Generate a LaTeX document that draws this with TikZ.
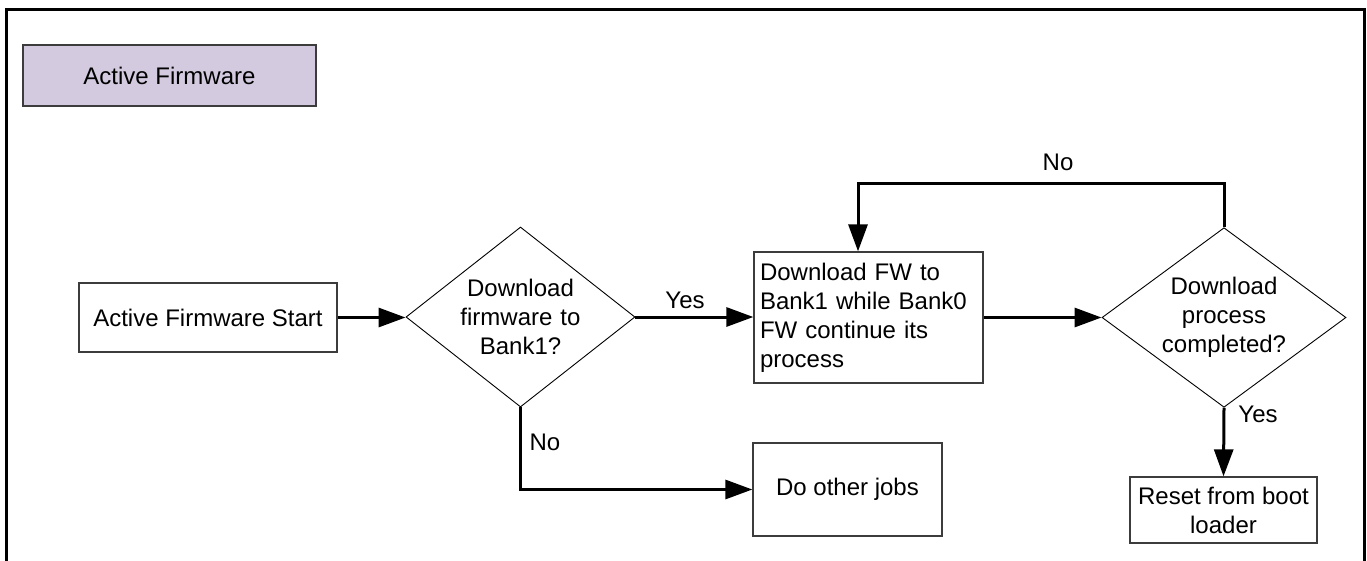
\documentclass[tikz,border=0pt]{standalone}
\usepackage{fontspec}
\setmainfont{Liberation Sans}
\usetikzlibrary{arrows.meta,shapes.geometric,calc}
\definecolor{titlefill}{RGB}{211,202,224}
\definecolor{boxline}{RGB}{60,60,60}
\begin{document}
\begin{tikzpicture}[x=1pt,y=-1pt,
  every node/.style={font=\fontsize{24}{29}\selectfont},
  box/.style={draw=boxline,line width=1.3pt,rectangle,inner sep=0pt,align=center},
  decision/.style={draw=black,line width=0.9pt,diamond,inner sep=0pt,aspect=1.27,text width=126pt,align=center},
  conn/.style={line width=3pt,-{Triangle[length=27pt 0,width=19pt 0]}},
  plain/.style={line width=3pt},
  lbl/.style={inner sep=0pt}]
\useasboundingbox (0,0) rectangle (1367,560);
\draw[line width=3pt] (6,9.5) -- (1364,9.5);
\draw[line width=3pt] (6,8) -- (6,580);
\draw[line width=3pt] (1364,8) -- (1364,580);

\node[box,fill=titlefill,minimum width=293pt,minimum height=61pt] (title) at (169.5,75.5) {Active Firmware};

\node[box,minimum width=258pt,minimum height=69pt] (start) at (208,317.5) {Active Firmware Start};
\node[decision,minimum width=229pt,minimum height=180pt] (d1) at (520.5,317) {Download\\firmware to\\Bank1?};
\node[box,minimum width=229pt,minimum height=131pt,text width=217pt,align=left] (dl) at (868.5,317.5) {Download FW to\\Bank1 while Bank0\\FW continue its\\process};
\node[decision,minimum width=244pt,minimum height=179pt] (d2) at (1224,317.5) {Download\\process\\completed?};
\node[box,minimum width=187pt,minimum height=66pt] (reset) at (1223.5,510) {Reset from boot\\loader};
\node[box,minimum width=189pt,minimum height=93pt] (other) at (847.5,489.5) {Do other jobs};

\coordinate (loop) at (858,183);

\draw[conn] (start.east) -- (start.east -| d1.west);
\draw[conn] (d1.east) -- (d1.east -| dl.west);
\draw[conn] (dl.east) -- (dl.east -| d2.west);
\draw[conn] (d2.north) |- (loop) -- (loop |- dl.north);
\draw[conn] (d2.south) -- (reset.north);
\draw[conn] (d1.south) |- (other.west);

\node[lbl] (yes1) at (685,300) {Yes};
\node[lbl] (no1) at (1058,162) {No};
\node[lbl] (yes2) at (1258,414) {Yes};
\node[lbl] (no2) at (545,442) {No};
\end{tikzpicture}
\end{document}
